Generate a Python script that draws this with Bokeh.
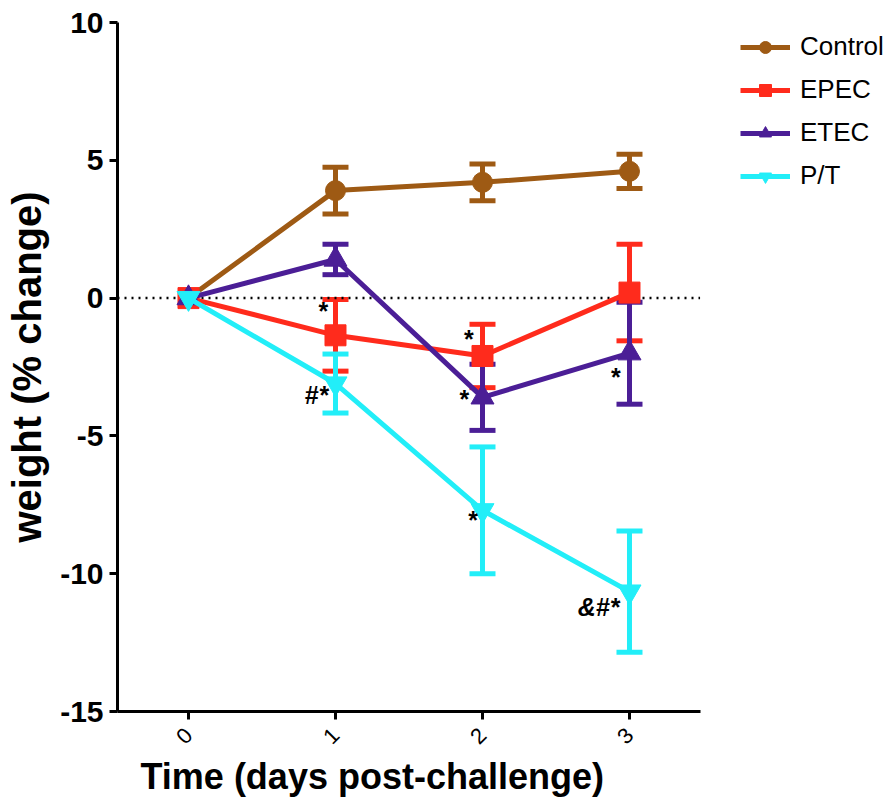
import math
from bokeh.plotting import figure
from bokeh.models import (ColumnDataSource, Whisker, TeeHead, Legend, LegendItem,
                          Title, FixedTicker, Range1d)
from bokeh.embed import file_html
from bokeh.resources import INLINE
from bokeh.core.properties import value

days = [0, 1, 2, 3]
x_ticks = [0, 1, 2, 3]
y_ticks = [10, 5, 0, -5, -10, -15]
y_tick_labels = {10: "10", 5: "5", 0: "0", -5: "-5", -10: "-10", -15: "-15"}

control = [0, 3.9, 4.2, 4.6]
control_err = [0, 0.85, 0.67, 0.62]
epec = [0, -1.35, -2.1, 0.2]
epec_err = [0, 1.3, 1.15, 1.75]
etec = [0, 1.4, -3.6, -2.0]
etec_err = [0, 0.55, 1.2, 1.85]
pt = [0, -3.1, -7.7, -10.65]
pt_err = [0, 1.07, 2.3, 2.2]

ann_x = [0.91, 0.87, 1.90, 1.87, 2.90, 1.93, 2.79]
ann_y = [-0.45, -3.5, -1.5, -3.65, -2.85, -8.05, -11.2]
ann_text = ["*", "#*", "*", "*", "*", "*", "&#*"]

series = [
    ("Control", control, control_err, "#9e5a14", "circle", 20),
    ("EPEC", epec, epec_err, "#ff2b1c", "square", 21),
    ("ETEC", etec, etec_err, "#4b1e96", "triangle", 23),
    ("P/T", pt, pt_err, "#22eef8", "inverted_triangle", 23),
]

FONT = "Liberation Sans"
X_AXIS_START, X_AXIS_END = -0.483, 3.48
X_VIEW_END = 4.762

p = figure(width=888, height=807, output_backend="svg", toolbar_location=None,
           x_range=Range1d(X_AXIS_START, X_VIEW_END), y_range=Range1d(-15, 10),
           min_border_left=117, min_border_right=0, min_border_top=22,
           min_border_bottom=96)
p.grid.visible = False
p.outline_line_color = None
p.background_fill_color = "white"

# dotted zero reference line spanning the x axis extent
p.line([X_AXIS_START, X_AXIS_END], [0, 0], line_color="black", line_width=2.5,
       line_dash="2 5")

items = []
for name, vals, errs, color, marker, size in series:
    ln = p.line(days, vals, line_color=color, line_width=5)
    ex = [d for d, e in zip(days, errs) if e > 0]
    ey = [v for v, e in zip(vals, errs) if e > 0]
    ee = [e for e in errs if e > 0]
    src = ColumnDataSource(dict(x=ex, up=[a + b for a, b in zip(ey, ee)],
                                lo=[a - b for a, b in zip(ey, ee)]))
    w = Whisker(source=src, base="x", upper="up", lower="lo", line_color=color,
                line_width=5,
                upper_head=TeeHead(size=26, line_color=color, line_width=5),
                lower_head=TeeHead(size=26, line_color=color, line_width=5))
    p.add_layout(w)
    sc = p.scatter(days, vals, marker=marker, size=size, fill_color=color,
                   line_color=color)
    items.append(LegendItem(label=name, renderers=[ln, sc]))

p.text(ann_x, ann_y, text=ann_text, text_font=value(FONT), text_font_size="25px",
       text_font_style="bold italic", text_color="black", text_align="center",
       text_baseline="middle")

legend = Legend(items=items, location=(623, 520), label_text_font=FONT,
                label_text_font_size="26px", label_text_color="black",
                glyph_width=50, glyph_height=30, label_height=30, spacing=12,
                label_standoff=10, padding=5, margin=0, border_line_color=None,
                background_fill_alpha=0)
p.add_layout(legend, "center")

for ax in (p.xaxis[0], p.yaxis[0]):
    ax.axis_line_width = 3
    ax.axis_line_color = "black"
    ax.major_tick_line_width = 3
    ax.major_tick_line_color = "black"
    ax.major_tick_out = 8
    ax.major_tick_in = 0
    ax.minor_tick_line_color = None
    ax.major_label_text_font = FONT
    ax.major_label_text_color = "black"

p.xaxis.bounds = (X_AXIS_START, X_AXIS_END)

p.yaxis.ticker = FixedTicker(ticks=y_ticks)
p.yaxis.major_label_overrides = y_tick_labels
p.yaxis.major_label_text_font_size = "30px"
p.yaxis.major_label_text_font_style = "bold"
p.yaxis.major_label_standoff = 6
p.yaxis.axis_label = "weight (% change)"
p.yaxis.axis_label_text_font = FONT
p.yaxis.axis_label_text_font_size = "40px"
p.yaxis.axis_label_text_font_style = "bold"
p.yaxis.axis_label_text_color = "black"
p.yaxis.axis_label_standoff = 8

p.xaxis.ticker = FixedTicker(ticks=x_ticks)
p.xaxis.major_label_text_font_size = "22px"
p.xaxis.major_label_orientation = math.pi / 4
p.xaxis.major_label_standoff = 12

xt = Title(text="Time (days post-challenge)", text_font=FONT, text_font_size="36px",
           text_font_style="bold", text_color="black", align="left", offset=23,
           standoff=0)
p.add_layout(xt, "below")

open("out.html", "w").write(file_html(p, INLINE))
